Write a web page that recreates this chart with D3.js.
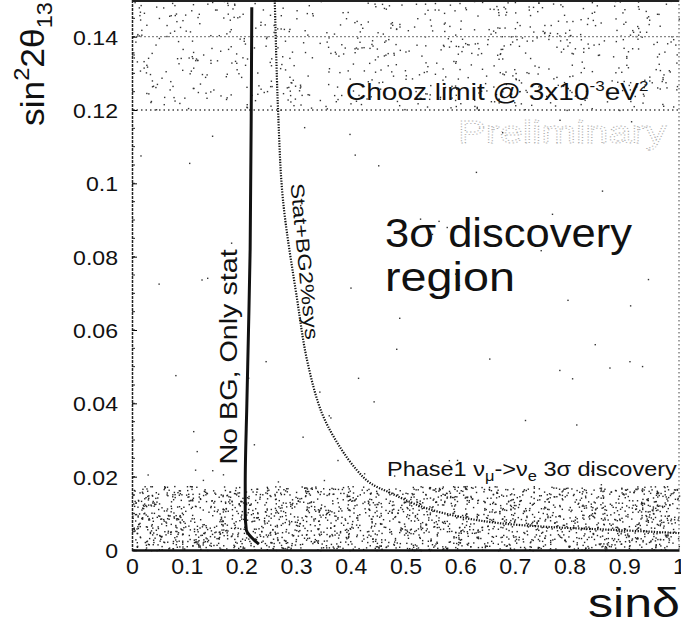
<!DOCTYPE html>
<html><head><meta charset="utf-8">
<script src="https://cdn.jsdelivr.net/npm/d3@7/dist/d3.min.js"></script>
<style>body{margin:0;background:#fff}svg{display:block}text{font-family:"Liberation Sans",Arial,sans-serif}</style>
</head><body><div id="c"></div>
<script>
const xTicks = [0,0.1,0.2,0.3,0.4,0.5,0.6,0.7,0.8,0.9,1];
const yTicks = [0,0.02,0.04,0.06,0.08,0.1,0.12,0.14];
const xTickLabels = ["0","0.1","0.2","0.3","0.4","0.5","0.6","0.7","0.8","0.9","1"];
const yTickLabels = ["0","0.02","0.04","0.06","0.08","0.1","0.12","0.14"];
// No BG, only stat curve: [sin delta, sin^2 2theta13]
const noBgX = [0.219,0.218,0.216,0.213,0.210,0.207,0.207,0.209,0.216,0.232];
const noBgY = [0.148,0.120,0.082,0.060,0.040,0.018,0.010,0.0055,0.0038,0.0016];
// Stat + BG 2% sys curve
const sysX = [0.261,0.267,0.276,0.302,0.320,0.347,0.380,0.411,0.435,0.472,0.532,0.600,0.667,0.760,0.879,1.0];
const sysY = [0.150,0.120,0.0955,0.0682,0.0518,0.0374,0.0281,0.0218,0.0183,0.0156,0.0117,0.0090,0.0074,0.0063,0.0055,0.0046];
const choozLimit = 0.12, choozLine = 0.14, phase1Limit = 0.0175;

const W=681,H=625;
const svg=d3.select("#c").append("svg").attr("width",W).attr("height",H);
const x=d3.scaleLinear().domain([0,1]).range([132,679]);
const y=d3.scaleLinear().domain([0,0.15]).range([550,0]);

// deterministic stipple texture
let seed=12345;function rnd(){seed=(seed*1103515245+12345)%2147483648;return seed/2147483648;}
function stipple(x0,x1,y0,y1,n,col){
  const g=svg.append("g");
  for(let i=0;i<n;i++){
    g.append("rect").attr("x",x0+rnd()*(x1-x0)).attr("y",y0+rnd()*(y1-y0)).attr("width",1.4).attr("height",1.4).attr("fill",col);
  }
}
stipple(x(0),x(1),y(0.15),y(choozLimit),750,"#333");
stipple(x(0),x(1),y(phase1Limit),y(0),2300,"#222");
stipple(x(0),x(1),y(choozLimit),y(phase1Limit),70,"#333");

// dotted horizontal lines
svg.append("line").attr("x1",x(0)).attr("x2",x(1)).attr("y1",y(choozLine)).attr("y2",y(choozLine))
  .attr("stroke","#888").attr("stroke-width",1.2).attr("stroke-dasharray","2,2");
svg.append("line").attr("x1",x(0)).attr("x2",x(1)).attr("y1",y(choozLimit)).attr("y2",y(choozLimit))
  .attr("stroke","#444").attr("stroke-width",1.3).attr("stroke-dasharray","1.5,3");

// frame
svg.append("line").attr("x1",x(0)).attr("x2",x(1)).attr("y1",1).attr("y2",1).attr("stroke","#222").attr("stroke-width",2);
svg.append("line").attr("x1",x(1)).attr("x2",x(1)).attr("y1",0).attr("y2",y(0)).attr("stroke","#444").attr("stroke-width",1).attr("stroke-dasharray","1.5,2.5");

function scaleText(sel,k){ sel.each(function(){const t=d3.select(this);const xx=+t.attr("x")||0;const yy=+t.attr("y")||0;
  t.attr("x",null).attr("y",null).attr("transform",`translate(${xx},${yy}) scale(${k},1)`);}); }

// axes
const yAxis=d3.axisLeft(y).tickValues(yTicks).tickFormat((d,i)=>yTickLabels[i]).tickSize(-5).tickPadding(14);
const gy=svg.append("g").attr("transform",`translate(${x(0)},0)`).call(yAxis);
gy.select(".domain").attr("stroke","#222").attr("stroke-width",1.5).attr("stroke-dasharray","3,1");
gy.selectAll("text").attr("font-size",21).attr("fill","#111").attr("dy","0.36em");
scaleText(gy.selectAll("text"),1.1);
const yMinor=d3.range(0,0.151,0.005);
svg.append("g").selectAll("line").data(yMinor).join("line").attr("x1",x(0)).attr("x2",x(0)+3)
  .attr("y1",d=>y(d)).attr("y2",d=>y(d)).attr("stroke","#222");

const xAxis=d3.axisBottom(x).tickValues(xTicks).tickFormat((d,i)=>xTickLabels[i]).tickSize(0).tickPadding(8);
const gx=svg.append("g").attr("transform",`translate(0,${y(0)})`).call(xAxis);
gx.select(".domain").attr("stroke","#111").attr("stroke-width",2.5);
gx.selectAll("text").attr("font-size",22).attr("fill","#111");
scaleText(gx.selectAll("text"),1.05);

// curves
const line=d3.line().curve(d3.curveMonotoneY);
svg.append("path").attr("d",line(noBgX.map((v,i)=>[x(v),y(noBgY[i])])))
  .attr("fill","none").attr("stroke","#111").attr("stroke-width",3);
const line2=d3.line().curve(d3.curveCatmullRom);
svg.append("path").attr("d",line2(sysX.map((v,i)=>[x(v),y(sysY[i])])))
  .attr("fill","none").attr("stroke","#111").attr("stroke-width",2.2).attr("stroke-dasharray","1.3,1.4");

// helper: place text in group, stretch horizontally to target width
function label(tx,ty,rot,size,anchor,target,build,attrs){
  const g=svg.append("g").attr("transform",`translate(${tx},${ty}) rotate(${rot})`);
  const t=g.append("text").attr("font-size",size).attr("text-anchor",anchor).attr("fill","#111");
  build(t);
  if(attrs) attrs(t);
  const bw=t.node().getBBox().width;
  t.attr("transform",`scale(${target/bw},1)`);
  return t;
}
label(237,357,-90,23,"middle",216,t=>t.text("No BG, Only stat"));
label(298,262,84.5,19,"middle",157,t=>t.text("Stat+BG2%sys"));
label(385,247,0,40,"start",247,t=>t.text("3σ discovery"));
label(385,291,0,40,"start",130,t=>t.text("region"));
label(346,100,0,23,"start",303,t=>{
  t.append("tspan").text("Chooz limit @ 3x10");
  t.append("tspan").attr("font-size",14).attr("dy",-9).text("-3");
  t.append("tspan").attr("dy",9).text("eV");
  t.append("tspan").attr("font-size",14).attr("dy",-9).text("2");
});
label(458,143,0,31,"start",209,t=>t.text("Preliminary"),t=>t.attr("fill","none")
  .attr("stroke","#aaa").attr("stroke-width",0.9).attr("stroke-dasharray","1,1.8"));
label(387,476,0,20,"start",290,t=>{
  t.append("tspan").text("Phase1 ν");
  t.append("tspan").attr("font-size",14).attr("dy",5).text("μ");
  t.append("tspan").attr("dy",-5).text("->ν");
  t.append("tspan").attr("font-size",14).attr("dy",5).text("e");
  t.append("tspan").attr("dy",-5).text(" 3σ discovery");
});

// axis titles
label(44,126,-90,33,"start",124,t=>{
  t.append("tspan").text("sin");
  t.append("tspan").attr("font-size",22).attr("dy",-15).text("2");
  t.append("tspan").attr("dy",15).text("2θ");
  t.append("tspan").attr("font-size",22).attr("dy",8).text("13");
});
label(680,617,0,40,"end",92,t=>t.text("sinδ"));
</script></body></html>
